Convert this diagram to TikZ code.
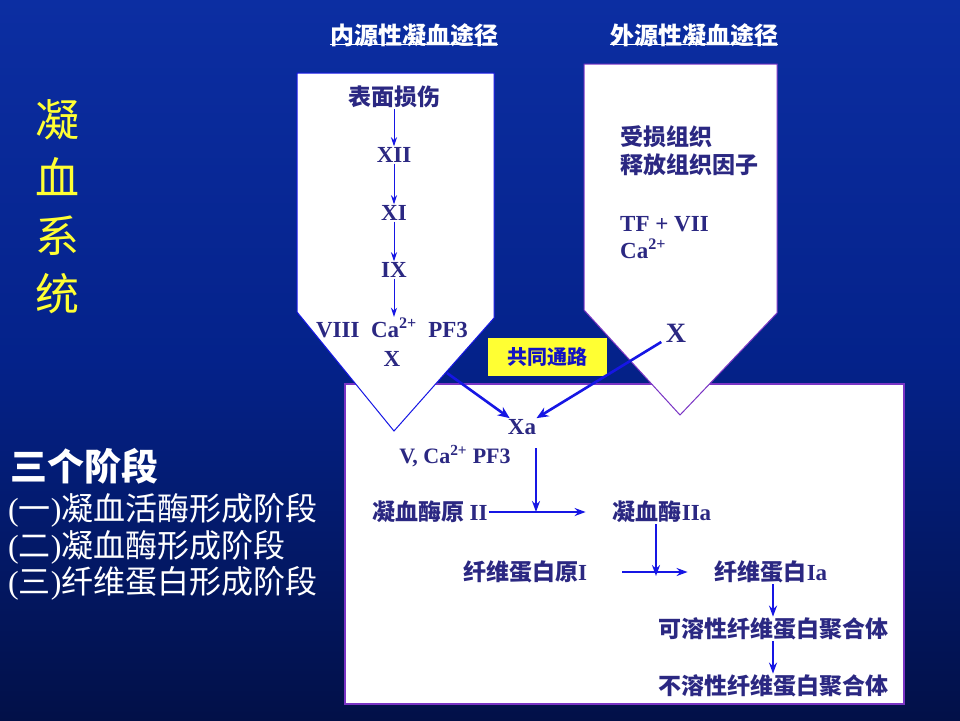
\documentclass[tikz,border=0pt]{standalone}
\usepackage{fontspec}
\setmainfont{Liberation Serif}
\newfontfamily\zh{Noto Sans CJK SC}
\usetikzlibrary{arrows.meta}
\definecolor{bgA}{RGB}{12,46,162}
\definecolor{bgM}{RGB}{4,34,138}
\definecolor{bgB}{RGB}{2,16,72}
\definecolor{ink}{RGB}{43,40,130}
\definecolor{arw}{RGB}{22,22,228}
\definecolor{purp}{RGB}{122,52,196}
\definecolor{ylw}{RGB}{255,255,51}
\tikzset{
  lbl/.style={text=ink, font=\bfseries\fontsize{23}{26}\selectfont, inner sep=1pt},
  zl/.style={text=ink, font=\zh\bfseries\fontsize{23}{28}\selectfont, inner sep=1pt},
  hdr/.style={text=white, font=\zh\bfseries\fontsize{24}{26}\selectfont, inner sep=0pt},
  tarr/.style={draw=arw, line width=1pt, -{Stealth[length=9pt,width=6pt]}},
  marr/.style={draw=arw, line width=1.8pt, -{Stealth[length=11pt,width=8pt]}},
  barr/.style={draw=arw, line width=2.6pt, -{Stealth[length=12pt,width=10pt]}},
}
\begin{document}
\begin{tikzpicture}[x=1pt,y=-1pt]
\useasboundingbox (0,0) rectangle (960,720);
% background
\fill[top color=bgA, bottom color=bgB, middle color=bgM] (0,0) rectangle (960,720);

% common pathway box
\draw[draw=purp, line width=1.6pt, fill=white] (345,384) rectangle (904,704);
% intrinsic pentagon
\draw[draw=arw, line width=1pt, fill=white] (297,73) -- (494,73) -- (494,318) -- (394,431) -- (297,312) -- cycle;
% extrinsic pentagon
\draw[draw=purp, line width=1pt, fill=white] (584,64) -- (777,64) -- (777,313) -- (680,415) -- (584,310) -- cycle;

% headers
\node[hdr] (h1) at (414,35) {内源性凝血途径};
\draw[white, line width=1.2pt] ([yshift=2pt]h1.south west) -- ([yshift=2pt]h1.south east);
\node[hdr] (h2) at (694,35) {外源性凝血途径};
\draw[white, line width=1.2pt] ([yshift=2pt]h2.south west) -- ([yshift=2pt]h2.south east);

% left titles
\node[text=ylw, font=\zh\fontsize{44}{58}\selectfont, align=center, inner sep=0pt] (t0) at (57,207) {凝\\血\\系\\统};
\node[text=white, font=\zh\bfseries\fontsize{37}{40}\selectfont, anchor=west, inner sep=0pt] (st) at (10,466) {三个阶段};
\node[text=white, font=\fontsize{32}{36.5}\selectfont, anchor=west, align=left, inner sep=0pt] (sl) at (8,547)
  {({\zh 一}){\zh 凝血活酶形成阶段}\\({\zh 二}){\zh 凝血酶形成阶段}\\({\zh 三}){\zh 纤维蛋白形成阶段}};

% intrinsic pathway
\node[zl] (s1) at (394,97) {表面损伤};
\node[lbl] (n12) at (394,155) {XII};
\node[lbl] (n11) at (394,213) {XI};
\node[lbl] (n9) at (394,270) {IX};
\node[lbl] (n8) at (392,328) {VIII\ \ Ca\textsuperscript{2+}\ \ PF3};
\node[lbl] (nx) at (392,359) {X};
\draw[tarr] (s1) -- (n12);
\draw[tarr] (n12) -- (n11);
\draw[tarr] (n11) -- (n9);
\draw[tarr] (n9) -- (n8.north -| n9);

% extrinsic pathway
\node[zl, anchor=west, align=left] (e1) at (619,151) {受损组织\\释放组织因子};
\node[lbl, anchor=west, align=left, font=\bfseries\fontsize{23}{27}\selectfont] (e2) at (619,238) {TF + VII\\Ca\textsuperscript{2+}};
\node[lbl, font=\bfseries\fontsize{28}{30}\selectfont] (ex) at (676,333) {X};

% common label
\node[fill=ylw, minimum width=119pt, minimum height=38pt, inner sep=0pt, text=arw!85!black,
      font=\zh\bfseries\fontsize{20}{22}\selectfont] (cp) at (547.5,357) {共同通路};

% common pathway
\node[lbl] (xa) at (522,427) {Xa};
\node[lbl, font=\bfseries\fontsize{22}{24}\selectfont] (v5) at (455,456) {V, Ca\textsuperscript{2+} PF3};
\node[zl] (p2) at (430,512) {凝血酶原 {\rmfamily II}};
\node[zl] (t2) at (662,512) {凝血酶{\rmfamily IIa}};
\node[zl] (f1) at (525,572) {纤维蛋白原{\rmfamily I}};
\node[zl] (f2) at (771,572) {纤维蛋白{\rmfamily Ia}};
\node[zl] (sp) at (773,629) {可溶性纤维蛋白聚合体};
\node[zl] (ip) at (773,686) {不溶性纤维蛋白聚合体};

\coordinate (c1) at (447,373);
\draw[barr] (c1) -- (xa);
\draw[barr, shorten <=4pt] (ex) -- (xa);

\coordinate (va) at (536,448);
\coordinate (m1) at (536,512);
\coordinate (m2) at (656,576);
\draw[marr] (p2.east) -- ([xshift=-26pt]t2.west);
\draw[marr] (va) -- (m1);
\draw[marr] ([xshift=34pt]f1.east) -- ([xshift=-26pt]f2.west);
\draw[marr] (t2.south -| m2) -- (m2);
\draw[marr] (f2.south -| sp) -- (sp);
\draw[marr] (sp) -- (ip);
\end{tikzpicture}
\end{document}
